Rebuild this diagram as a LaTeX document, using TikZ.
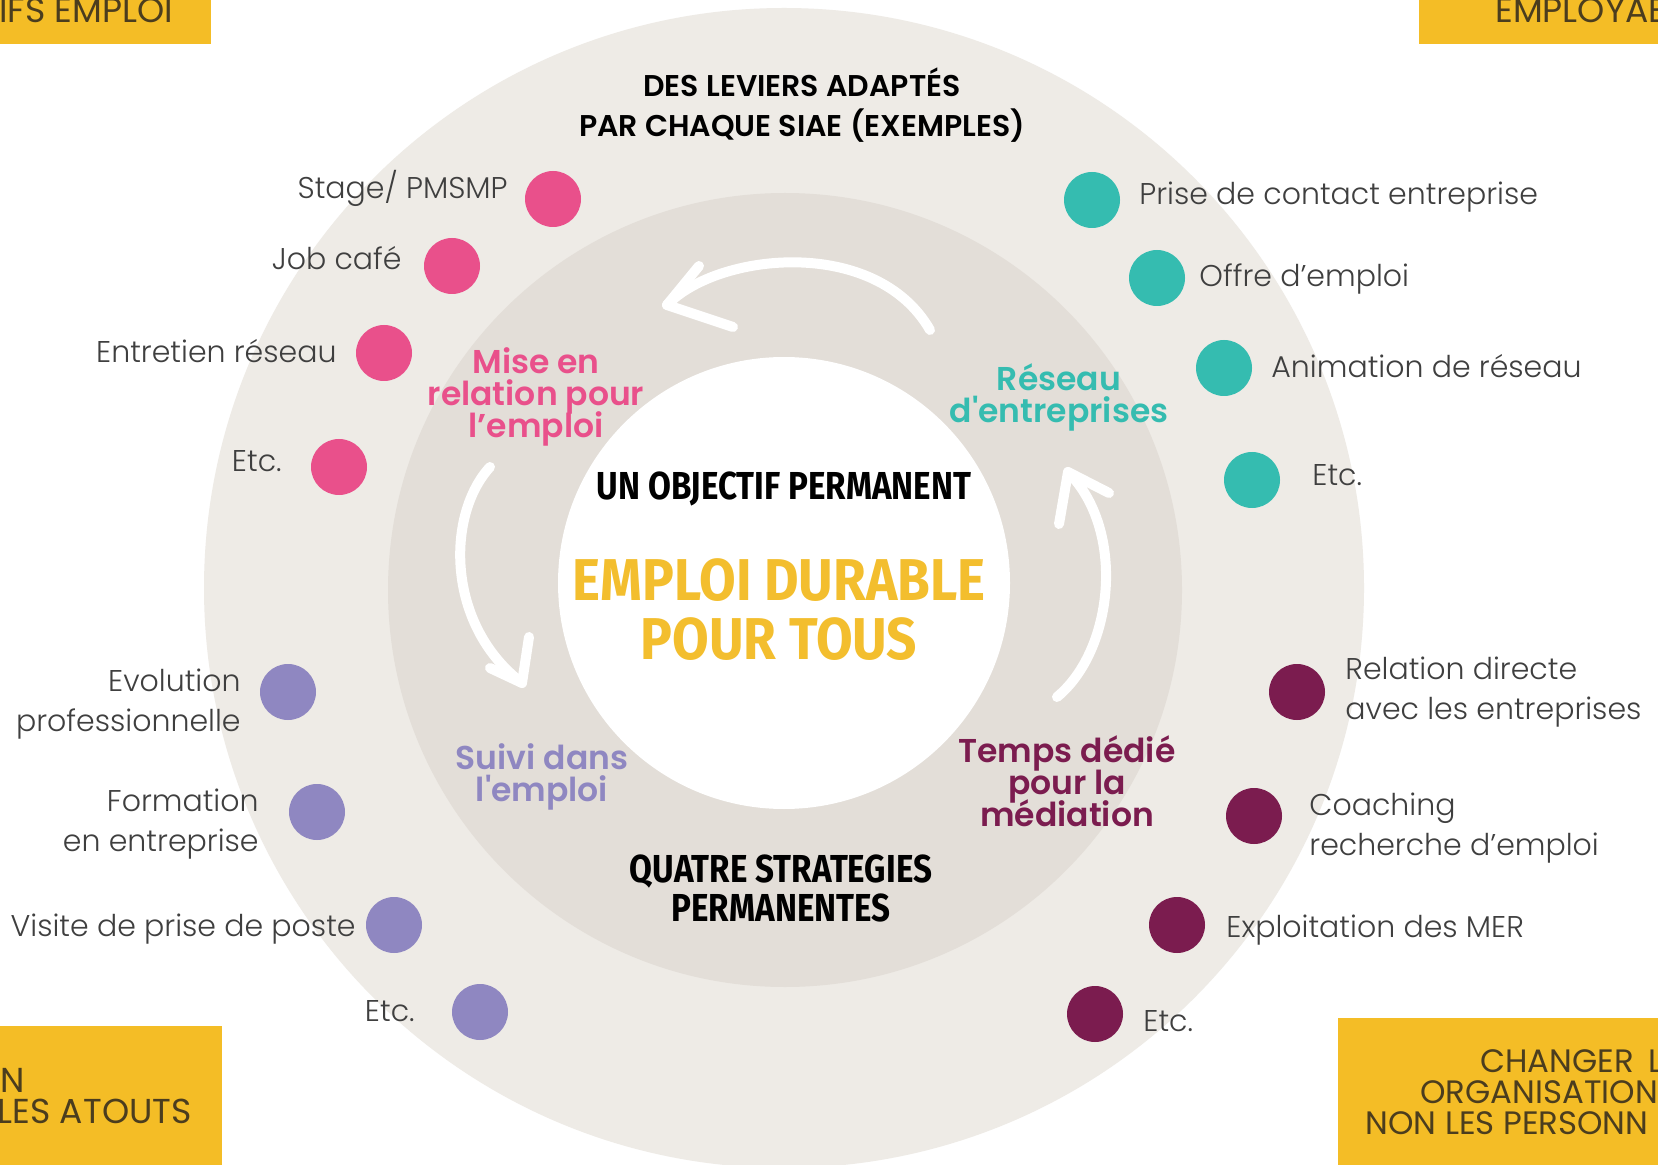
\documentclass[tikz,border=0pt]{standalone}
\usepackage{fontspec}
\setmainfont{Poppins}
\newfontfamily\plight{Poppins Light}
\newfontfamily\psemi{Poppins SemiBold}
\newfontfamily\condf{Fira Sans}[FakeStretch=0.85]
\newfontfamily\condw{Fira Sans}[FakeStretch=0.9]
\definecolor{outerbg}{HTML}{EEEBE6}
\definecolor{ringbg}{HTML}{E3DED8}
\definecolor{boxyel}{HTML}{F4BD26}
\definecolor{txtyel}{HTML}{F3BE2E}
\definecolor{boxtxt}{HTML}{4B3D1E}
\definecolor{lblgray}{HTML}{3F3F3F}
\definecolor{cpink}{HTML}{E9508B}
\definecolor{cteal}{HTML}{35BCB0}
\definecolor{clav}{HTML}{8F87C1}
\definecolor{cplum}{HTML}{7B1C4F}
\begin{document}
\begin{tikzpicture}[x=0.5pt,y=-0.5pt,
  lbl/.style={font=\plight\fontsize{15}{20}\selectfont, text=lblgray, inner sep=0pt},
  dot/.style={circle, fill=#1, minimum size=28pt, inner sep=0pt},
  strat/.style={font={\psemi\fontsize{16.5}{16}\selectfont\lineskiplimit=-20pt\lineskip=0pt}, text=#1, align=center, inner sep=0pt},
  boxtext/.style={font=\fontsize{17.3}{17}\selectfont, text=boxtxt, inner sep=0pt},
  boxtextb/.style={font=\fontsize{16.2}{16}\selectfont, text=boxtxt, inner sep=0pt},
  ybox/.style={fill=boxyel},
  arrowline/.style={draw=white, line width=5pt, line cap=round, line join=round}
]
\useasboundingbox (0,0) rectangle (1658,1165);
\clip (0,0) rectangle (1658,1165);
\fill[white] (0,0) rectangle (1658,1165);

% circles
\fill[outerbg] (784,588) circle[radius=580];
\fill[ringbg] (785,590) circle[radius=397];
\fill[white] (784,583) circle[radius=226];

% yellow boxes
\fill[ybox] (0,0) rectangle (211,44);
\node[boxtext, anchor=base west] (tl) at (-1,23) {IFS EMPLOI};
\fill[ybox] (1419,0) rectangle (1658,44);
\node[boxtext, anchor=base west] (tr) at (1495,23) {EMPLOYAB};
\fill[ybox] (0,1026) rectangle (222,1165);
\node[boxtext, anchor=base east] (bl1) at (25,1092) {ON};
\node[boxtext, anchor=base east] (bl2) at (192,1123) {LES ATOUTS};
\fill[ybox] (1338,1018) rectangle (1658,1165);
\node[boxtextb, anchor=base west] (br1) at (1480,1072) {CHANGER\ \,L};
\node[boxtextb, anchor=base west] (br2) at (1420,1103) {ORGANISATION};
\node[boxtextb, anchor=base west] (br3) at (1365,1134) {NON LES PERSONN};

% heading
\node[font=\psemi\fontsize{15}{20}\selectfont, align=center, inner sep=0pt] (head) at (802,105)
  {DES LEVIERS ADAPTÉS\\PAR CHAQUE SIAE (EXEMPLES)};

% pink
\node[dot=cpink] (p1) at (553,199) {};
\node[dot=cpink] (p2) at (452,266) {};
\node[dot=cpink] (p3) at (384,353) {};
\node[dot=cpink] (p4) at (339,467) {};
\node[lbl, anchor=base east] (pl1) at (508,199) {Stage/ PMSMP};
\node[lbl, anchor=base east] (pl2) at (402,270) {Job café};
\node[lbl, anchor=base east] (pl3) at (337,363) {Entretien réseau};
\node[lbl, anchor=base east] (pl4) at (282,472) {Etc.};

% teal
\node[dot=cteal] (t1) at (1092,200) {};
\node[dot=cteal] (t2) at (1157,278) {};
\node[dot=cteal] (t3) at (1224,368) {};
\node[dot=cteal] (t4) at (1252,480) {};
\node[lbl, anchor=base west] (tl1) at (1139,205) {Prise de contact entreprise};
\node[lbl, anchor=base west] (tl2) at (1199,287) {Offre d’emploi};
\node[lbl, anchor=base west] (tl3) at (1271,378) {Animation de réseau};
\node[lbl, anchor=base west] (tl4) at (1312,486) {Etc.};

% lavender
\node[dot=clav] (l1) at (288,692) {};
\node[dot=clav] (l2) at (317,812) {};
\node[dot=clav] (l3) at (394,925) {};
\node[dot=clav] (l4) at (480,1012) {};
\node[lbl, anchor=east, align=right] (ll1) at (241,704) {Evolution\\professionnelle};
\node[lbl, anchor=east, align=right] (ll2) at (259,824) {Formation\\en entreprise};
\node[lbl, anchor=base east] (ll3) at (356,936) {Visite de prise de poste};
\node[lbl, anchor=base east] (ll4) at (415,1021) {Etc.};

% plum
\node[dot=cplum] (m1) at (1297,692) {};
\node[dot=cplum] (m2) at (1254,816) {};
\node[dot=cplum] (m3) at (1177,925) {};
\node[dot=cplum] (m4) at (1095,1014) {};
\node[lbl, anchor=west, align=left] (ml1) at (1345,692) {Relation directe\\avec les entreprises};
\node[lbl, anchor=west, align=left] (ml2) at (1309,828) {Coaching\\recherche d’emploi};
\node[lbl, anchor=base west] (ml3) at (1226,937) {Exploitation des MER};
\node[lbl, anchor=base west] (ml4) at (1143,1031) {Etc.};

% strategies
\node[strat=cpink] (s1) at (536,397) {Mise en\\relation pour\\l’emploi};
\node[strat=cteal] (s2) at (1059,397) {Réseau\\d'entreprises};
\node[strat=clav] (s3) at (542,777) {Suivi dans\\l'emploi};
\node[strat=cplum] (s4) at (1067,781) {Temps dédié\\pour la\\médiation};

% centre
\node[font=\condf\bfseries\fontsize{19.5}{20}\selectfont, inner sep=0pt, anchor=base] (obj) at (784,500) {UN OBJECTIF PERMANENT};
\node[font=\condw\bfseries\fontsize{29.5}{29.5}\selectfont, text=txtyel, align=center, inner sep=0pt] (emp) at (779,610)
  {EMPLOI DURABLE\\POUR TOUS};
\node[font=\condf\bfseries\fontsize{19.5}{19.5}\selectfont, align=center, inner sep=0pt] (quat) at (781,888)
  {QUATRE STRATEGIES\\PERMANENTES};

% white arrows
\coordinate (a1s) at (930,330);
\coordinate (a1e) at (667,305);
\draw[arrowline] (a1s) .. controls (876,236) and (718,252) .. (a1e);
\coordinate (a1h1) at (699,266);
\coordinate (a1h2) at (733,327);
\draw[arrowline] (a1h1) -- (a1e) -- (a1h2);

\coordinate (a2s) at (490,467);
\coordinate (a2e) at (522,683);
\draw[arrowline] (a2s) .. controls (446,515) and (446,625) .. (a2e);
\coordinate (a2h1) at (490,668);
\coordinate (a2h2) at (529,637);
\draw[arrowline] (a2h1) -- (a2e) -- (a2h2);

\coordinate (a3s) at (1057,697);
\coordinate (a3e) at (1068,472);
\draw[arrowline] (a3s) .. controls (1114,650) and (1126,530) .. (a3e);
\coordinate (a3h1) at (1059,524);
\coordinate (a3h2) at (1109,493);
\draw[arrowline] (a3h1) -- (a3e) -- (a3h2);
\end{tikzpicture}
\end{document}
